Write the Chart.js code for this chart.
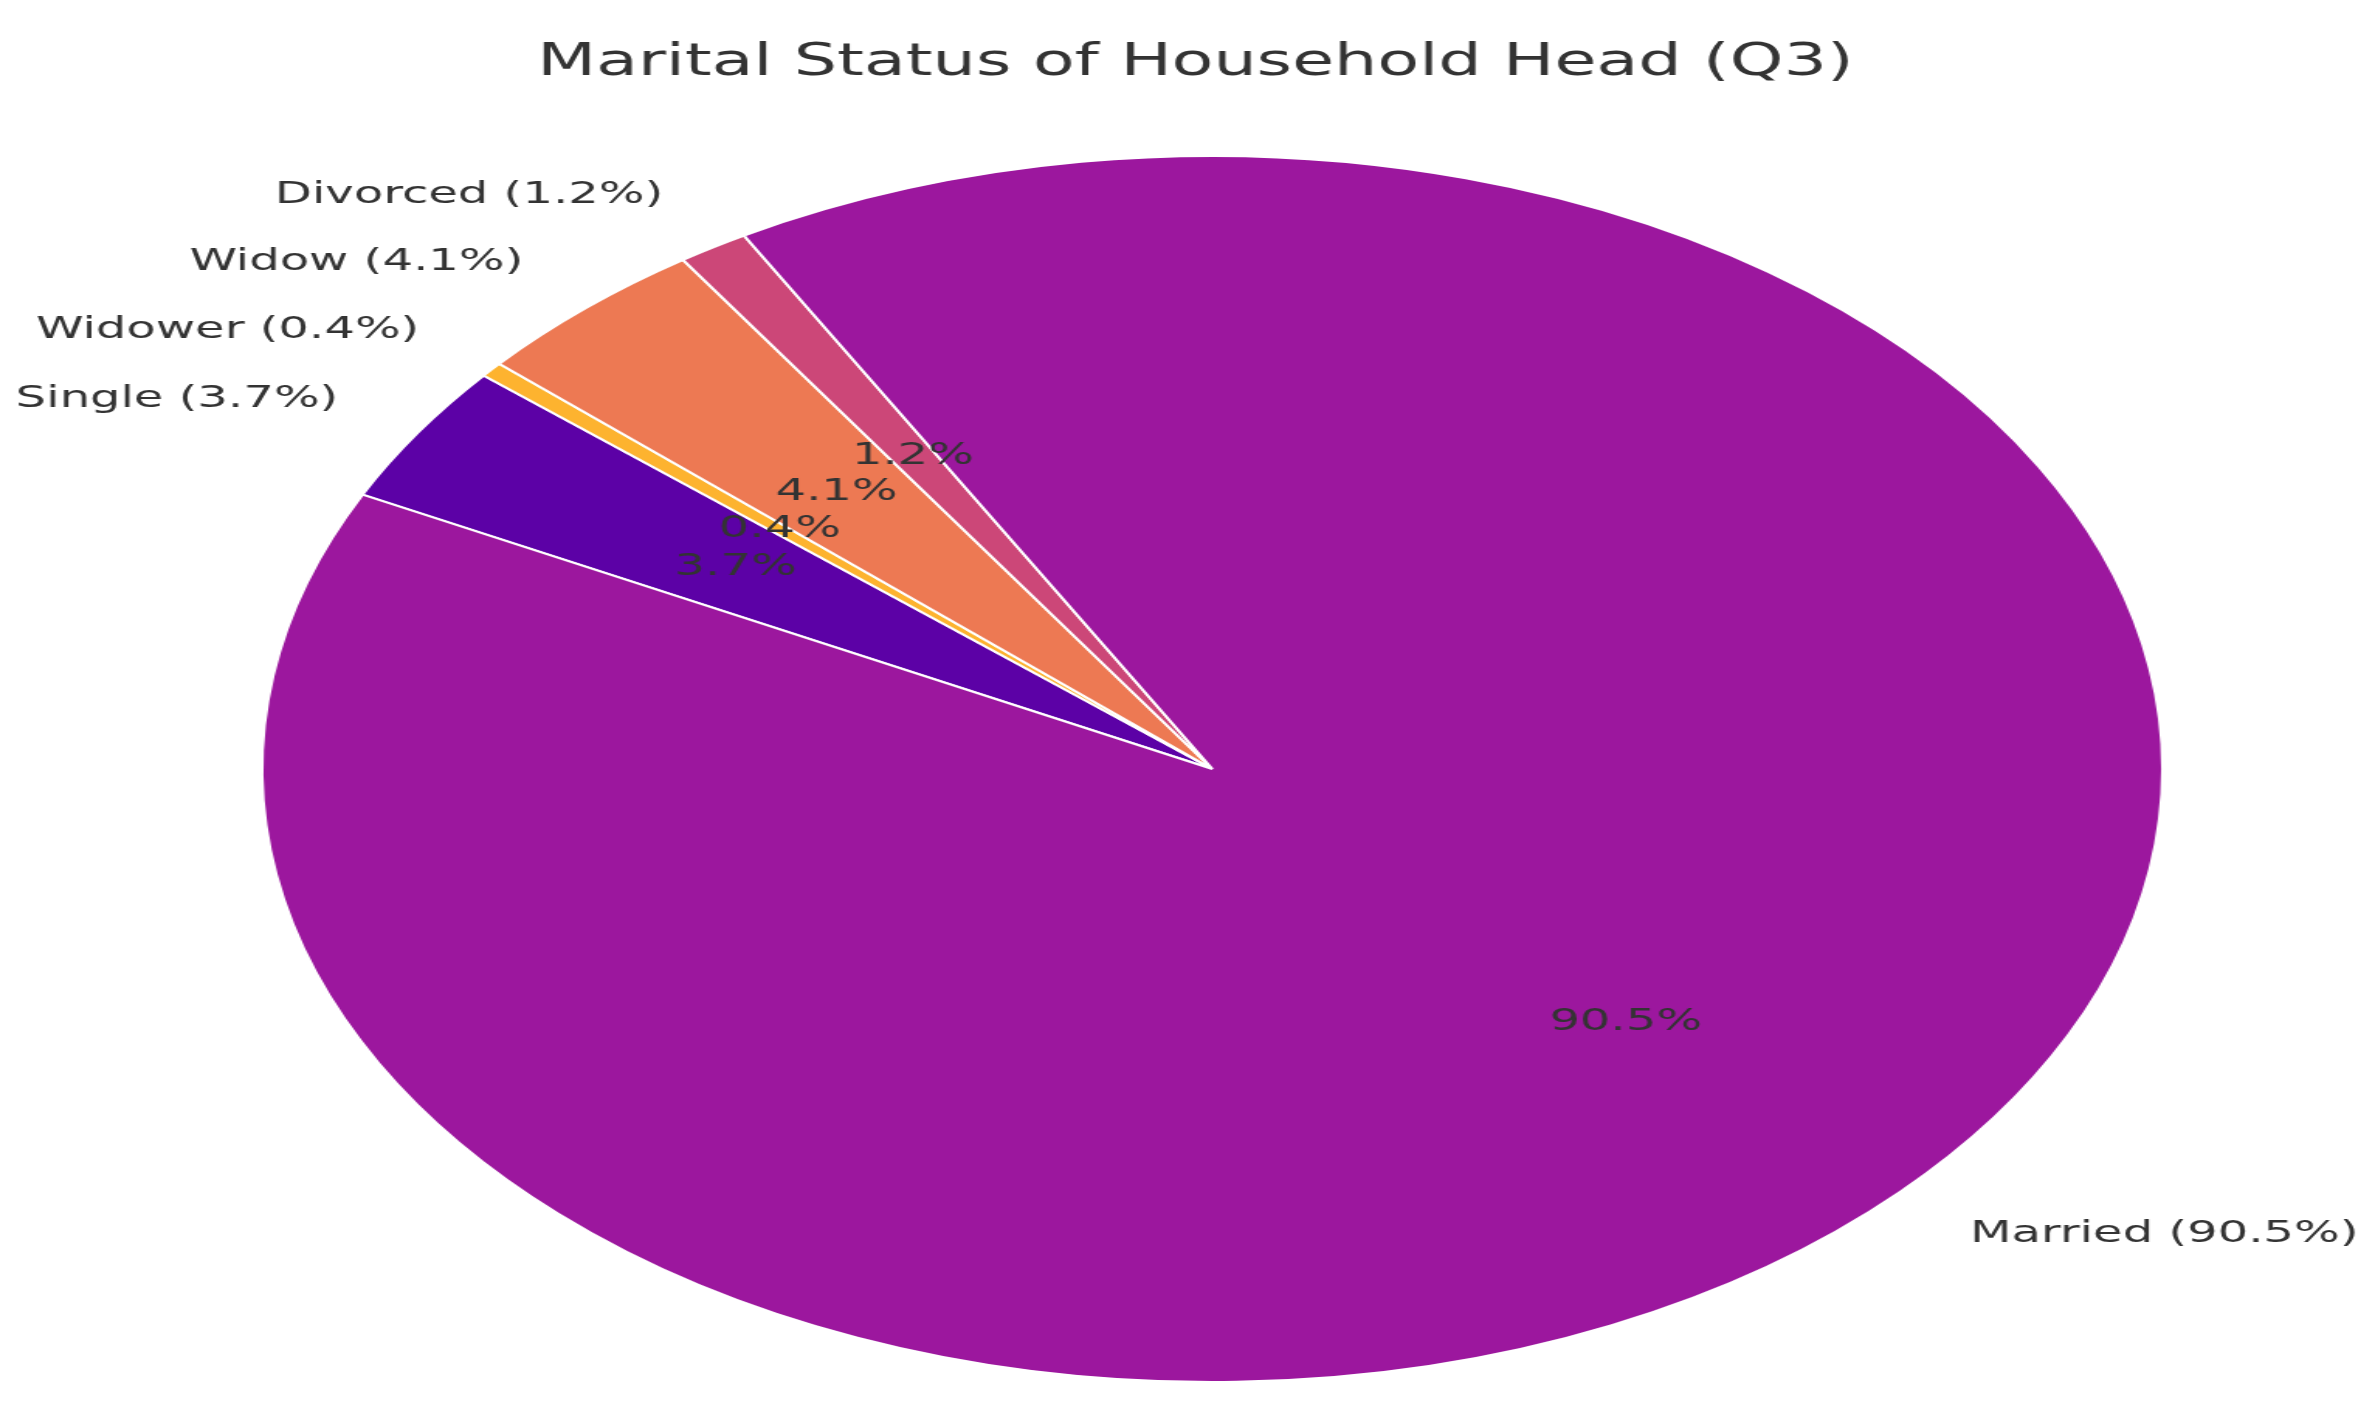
<!DOCTYPE html>
<html><head><meta charset="utf-8">
<script src="https://cdn.jsdelivr.net/npm/chart.js@4"></script>
<style>html,body{margin:0;padding:0;background:#fff;overflow:hidden}
canvas{display:block;width:2375px!important;height:1403px!important}</style>
</head><body>
<canvas id="c" width="1532" height="1403"></canvas>
<script>
const categories = ["Single", "Widower", "Widow", "Divorced", "Married"];
const values = [3.7, 0.4, 4.1, 1.2, 90.5];
const colors = ["#5c01a6", "#fdb32f", "#ed7953", "#cc4778", "#9c179e"];
const titleText = "Marital Status of Household Head (Q3)";

const labelPlugin = {
  id: 'labels',
  afterDatasetsDraw(chart) {
    const ctx = chart.ctx;
    const meta = chart.getDatasetMeta(0);
    ctx.save();
    ctx.fillStyle = '#333';
    ctx.font = '31px "DejaVu Sans"';
    ctx.textBaseline = 'middle';
    meta.data.forEach((arc, i) => {
      const p = arc.getProps(['x','y','startAngle','endAngle','outerRadius'], true);
      const a = (p.startAngle + p.endAngle) / 2;
      const r = p.outerRadius;
      ctx.textAlign = 'center';
      ctx.fillText(values[i].toFixed(1) + '%', p.x + Math.cos(a) * r * 0.6, p.y + Math.sin(a) * r * 0.6);
      const lx = p.x + Math.cos(a) * r * 1.1, ly = p.y + Math.sin(a) * r * 1.1;
      ctx.textAlign = Math.cos(a) >= 0 ? 'left' : 'right';
      ctx.fillText(categories[i] + ' (' + values[i].toFixed(1) + '%)', lx, ly);
    });
    ctx.textAlign = 'center';
    ctx.font = '44px "DejaVu Sans"';
    ctx.fillText(titleText, chart.width / 2 + 5, 64);
    ctx.restore();
  }
};

new Chart(document.getElementById('c'), {
  type: 'pie',
  data: { labels: categories, datasets: [{ data: values, backgroundColor: colors, borderColor: '#fff', borderWidth: 2 }] },
  options: {
    responsive: false, animation: false, devicePixelRatio: 1,
    rotation: -63.4,
    layout: { padding: { top: 155, bottom: 20, left: 168, right: 136 } },
    plugins: { legend: { display: false }, tooltip: { enabled: false }, title: { display: false } }
  },
  plugins: [labelPlugin]
});
</script>
</body></html>
